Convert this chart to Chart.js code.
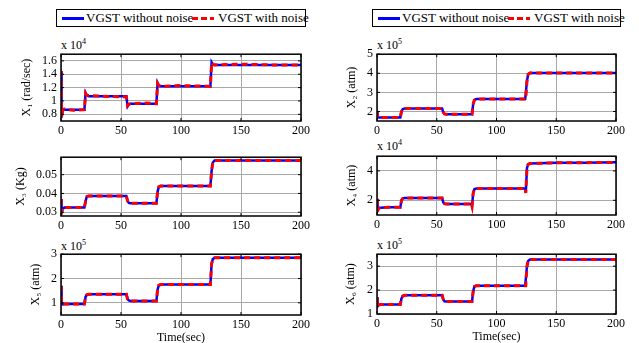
<!DOCTYPE html>
<html>
<head>
<meta charset="utf-8">
<script src="https://cdn.jsdelivr.net/npm/chart.js@4"></script>
<style>
body { margin: 0; width: 639px; height: 343px; background: #fff; position: relative; overflow: hidden;
       font-family: "Liberation Serif", "Times New Roman", serif; }
canvas { position: absolute; }
.lg { position: absolute; top: 9px; height: 18px; border: 1px solid #000; box-sizing: border-box; font-size: 13px; line-height: 16px; white-space: nowrap; }
.lg span { position: absolute; top: 0; }
.sw { position: absolute; top: 7px; height: 3px; width: 22px; }
.blue { background: #0000ff; }
.red { background: repeating-linear-gradient(90deg, #ff0000 0 6px, transparent 6px 9px); }
.exp { position: absolute; font-size: 12px; line-height: 12px; }
.exp sup { font-size: 8px; vertical-align: 5px; }
</style>
</head>
<body>

<div class="lg" style="left:56px;width:250px">
  <div class="sw blue" style="left:5px"></div><span style="left:29px">VGST without noise</span>
  <div class="sw red" style="left:135px"></div><span style="left:161px">VGST with noise</span>
</div>
<div class="lg" style="left:372px;width:249px">
  <div class="sw blue" style="left:5px"></div><span style="left:29px">VGST without noise</span>
  <div class="sw red" style="left:135px"></div><span style="left:161px">VGST with noise</span>
</div>

<div class="exp" style="left:61px;top:36px">x 10<sup>4</sup></div>
<div class="exp" style="left:377px;top:36px">x 10<sup>5</sup></div>
<div class="exp" style="left:377px;top:137px">x 10<sup>4</sup></div>
<div class="exp" style="left:61px;top:237px">x 10<sup>5</sup></div>
<div class="exp" style="left:377px;top:236px">x 10<sup>5</sup></div>

<script>
// time (sec)
const time = [0, 0.5, 1.5, 3, 10, 19.5, 20.5, 21.5, 23, 35, 54.5, 55.5, 56.5, 58, 70,
              79, 79.5, 80.5, 81.5, 83, 100, 124, 124.5, 125.5, 126.5, 128, 150, 175, 200];

// X1 (x 10^4 rad/sec)
const x1Clean = [1.45, 0.75, 0.86, 0.87, 0.87, 0.87, 1.12, 1.08, 1.07, 1.07, 1.07, 0.92, 0.95, 0.96, 0.96,
                 0.96, 0.96, 1.27, 1.23, 1.22, 1.22, 1.22, 1.22, 1.58, 1.55, 1.54, 1.54, 1.54, 1.54];
const x1Noisy = [1.45, 0.76, 0.87, 0.88, 0.86, 0.87, 1.11, 1.08, 1.08, 1.07, 1.06, 0.93, 0.95, 0.96, 0.97,
                 0.96, 0.96, 1.26, 1.23, 1.22, 1.23, 1.22, 1.22, 1.57, 1.55, 1.54, 1.55, 1.54, 1.54];

// X2 (x 10^5 atm)
const x2Clean = [2.0, 1.7, 1.68, 1.68, 1.68, 1.68, 2.0, 2.12, 2.15, 2.15, 2.15, 1.95, 1.87, 1.85, 1.85,
                 1.85, 1.85, 2.4, 2.6, 2.65, 2.65, 2.65, 2.65, 3.6, 3.95, 4.02, 4.02, 4.02, 4.02];
const x2Noisy = x2Clean;

// X3 (Kg)
const x3Clean = [0.037, 0.030, 0.032, 0.0325, 0.0325, 0.0325, 0.036, 0.0383, 0.0386, 0.0386, 0.0386, 0.036, 0.035, 0.0348, 0.0348,
                 0.0348, 0.0348, 0.041, 0.0435, 0.044, 0.044, 0.044, 0.044, 0.052, 0.0565, 0.0575, 0.0575, 0.0575, 0.0575];
const x3Noisy = x3Clean;

// X4 (x 10^4 atm)
const x4Clean = [2.1, 1.3, 1.45, 1.5, 1.52, 1.52, 2.0, 2.12, 2.15, 2.15, 2.15, 1.85, 1.77, 1.75, 1.75,
                 1.75, 1.6, 2.5, 2.75, 2.8, 2.8, 2.8, 2.5, 4.2, 4.45, 4.5, 4.55, 4.56, 4.58];
const x4Noisy = x4Clean;

// X5 (x 10^5 atm)
const x5Clean = [1.7, 0.95, 0.93, 0.95, 0.95, 0.95, 1.25, 1.33, 1.35, 1.35, 1.35, 1.15, 1.1, 1.08, 1.08,
                 1.08, 1.08, 1.55, 1.72, 1.75, 1.75, 1.75, 1.75, 2.6, 2.8, 2.85, 2.85, 2.85, 2.85];
const x5Noisy = x5Clean;

// X6 (x 10^5 atm)
const x6Clean = [1.7, 1.32, 1.38, 1.4, 1.4, 1.4, 1.65, 1.75, 1.78, 1.78, 1.78, 1.6, 1.53, 1.52, 1.52,
                 1.52, 1.52, 1.95, 2.15, 2.18, 2.18, 2.18, 2.18, 3.0, 3.22, 3.28, 3.28, 3.28, 3.28];
const x6Noisy = x6Clean;

const xTicks = [0, 50, 100, 150, 200];

const boxPlugin = {
  id: 'box',
  afterDraw(chart) {
    const { ctx, chartArea: a, scales } = chart;
    ctx.save();
    ctx.strokeStyle = '#000';
    ctx.lineWidth = 1.5;
    ctx.strokeRect(a.left, a.top, a.right - a.left, a.bottom - a.top);
    ctx.lineWidth = 1;
    ctx.beginPath();
    scales.x.ticks.forEach(t => {
      const px = scales.x.getPixelForValue(t.value);
      ctx.moveTo(px, a.bottom); ctx.lineTo(px, a.bottom - 3);
      ctx.moveTo(px, a.top); ctx.lineTo(px, a.top + 3);
    });
    scales.y.ticks.forEach(t => {
      const py = scales.y.getPixelForValue(t.value);
      ctx.moveTo(a.left, py); ctx.lineTo(a.left + 3, py);
      ctx.moveTo(a.right, py); ctx.lineTo(a.right - 3, py);
    });
    ctx.stroke();
    ctx.restore();
  }
};

const font = { family: '"Liberation Serif", "Times New Roman", serif', size: 12 };

function panel(p) {
  const xh = p.xTitle ? 30 : 17;
  const left = p.titleX - 8;
  const top = p.top - 6;
  const w = p.right + 12 - left;
  const h = p.bottom + xh - top;
  const cv = document.createElement('canvas');
  cv.style.left = left + 'px';
  cv.style.top = top + 'px';
  cv.style.width = w + 'px';
  cv.style.height = h + 'px';
  cv.width = w; cv.height = h;
  document.body.appendChild(cv);

  const pts = arr => time.map((t, i) => ({ x: t, y: arr[i] }));

  new Chart(cv, {
    type: 'line',
    data: {
      datasets: [
        { label: 'VGST without noise', data: pts(p.clean), borderColor: '#0000ff', borderWidth: 2.5,
          pointRadius: 0, tension: 0, order: 2 },
        { label: 'VGST with noise', data: pts(p.noisy), borderColor: '#ff0000', borderWidth: 3,
          borderDash: [6, 4], pointRadius: 0, tension: 0, order: 1 }
      ]
    },
    options: {
      responsive: false,
      animation: false,
      layout: { padding: { top: 6, right: 12, left: 0, bottom: 0 } },
      plugins: { legend: { display: false }, tooltip: { enabled: false } },
      scales: {
        x: {
          type: 'linear', min: 0, max: 200,
          afterBuildTicks: s => { s.ticks = xTicks.map(v => ({ value: v })); },
          afterFit: s => { s.height = xh; },
          grid: { color: '#a8a8a8', drawTicks: false },
          border: { display: false },
          ticks: { font, color: '#000', padding: 3, maxRotation: 0, autoSkip: false },
          title: { display: !!p.xTitle, text: 'Time(sec)', font, color: '#000', padding: 0 }
        },
        y: {
          type: 'linear', min: p.min, max: p.max,
          afterBuildTicks: s => { s.ticks = p.ticks.map(v => ({ value: v })); },
          afterFit: s => { s.width = p.left - left; },
          grid: { color: '#a8a8a8', drawTicks: false },
          border: { display: false },
          ticks: { font, color: '#000', padding: 4, autoSkip: false, callback: v => String(v) },
          title: { display: true, text: p.yTitle, font, color: '#000', padding: 0 }
        }
      }
    },
    plugins: [boxPlugin]
  });
}

panel({ left: 61, right: 301, top: 49, bottom: 121, titleX: 28, min: 0.7, max: 1.7,
        ticks: [0.8, 1, 1.2, 1.4, 1.6], yTitle: 'X\u2081 (rad/sec)', clean: x1Clean, noisy: x1Noisy });
panel({ left: 377, right: 616, top: 49, bottom: 121, titleX: 353, min: 1.5, max: 5,
        ticks: [2, 3, 4, 5], yTitle: 'X\u2082 (atm)', clean: x2Clean, noisy: x2Noisy });
panel({ left: 61, right: 301, top: 152, bottom: 216, titleX: 22, min: 0.028, max: 0.0593,
        ticks: [0.03, 0.04, 0.05], yTitle: 'X\u2083 (Kg)', clean: x3Clean, noisy: x3Noisy });
panel({ left: 377, right: 616, top: 151, bottom: 215, titleX: 353, min: 1, max: 5,
        ticks: [2, 4], yTitle: 'X\u2084 (atm)', clean: x4Clean, noisy: x4Noisy });
panel({ left: 61, right: 301, top: 249, bottom: 315, titleX: 37, min: 0.5, max: 3,
        ticks: [1, 2, 3], yTitle: 'X\u2085 (atm)', clean: x5Clean, noisy: x5Noisy, xTitle: true });
panel({ left: 377, right: 616, top: 249, bottom: 314, titleX: 352, min: 1, max: 3.5,
        ticks: [1, 2, 3], yTitle: 'X\u2086 (atm)', clean: x6Clean, noisy: x6Noisy, xTitle: true });
</script>
</body>
</html>
